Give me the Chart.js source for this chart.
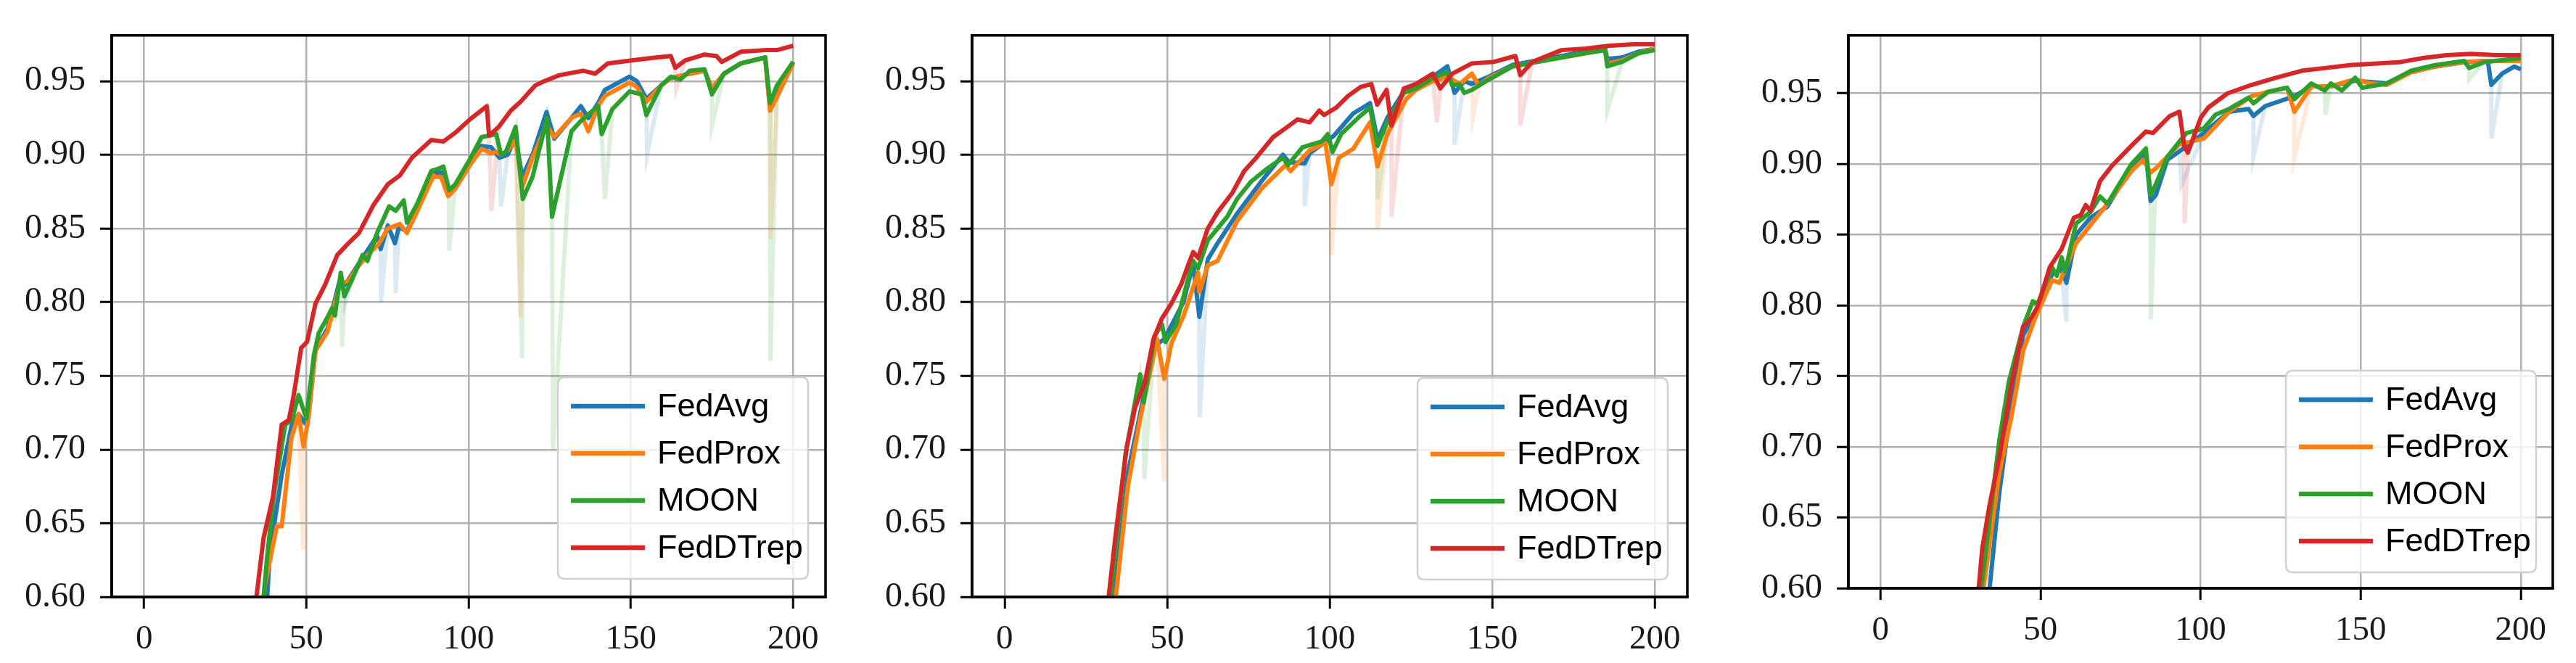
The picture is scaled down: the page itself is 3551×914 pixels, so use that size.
<!DOCTYPE html>
<html>
<head>
<meta charset="utf-8">
<script src="https://cdn.jsdelivr.net/npm/chart.js@4.4.0/dist/chart.umd.min.js"></script>
<style>
html,body{margin:0;padding:0;background:#ffffff;width:3551px;height:914px;overflow:hidden;}
.panel{position:absolute;top:0;height:914px;}
</style>
</head>
<body>
<div class="panel" style="left:0px;width:1175px"><canvas id="c1"></canvas></div>
<div class="panel" style="left:1180px;width:1175px"><canvas id="c2"></canvas></div>
<div class="panel" style="left:2360px;width:1191px"><canvas id="c3"></canvas></div>
<script>
// ---------------- data ----------------
const methods = ['FedAvg', 'FedProx', 'MOON', 'FedDTrep'];
const epochTicks = [0, 50, 100, 150, 200];
const accTicks = [0.60, 0.65, 0.70, 0.75, 0.80, 0.85, 0.90, 0.95];

// Panel 1
const p1FedAvgEpoch = [37, 38, 38.7, 40.2, 42.4, 45.4, 47.6, 49.5, 51, 52.8, 56.5, 60.3, 62, 65.5, 68.8, 71.8, 72.9, 75.1, 77.3, 78.5, 81, 84, 89.2, 91.5, 93.7, 95.9, 100.4, 104, 107, 109.5, 112, 114.5, 116.5, 119.7, 124, 126.4, 131.7, 134.6, 136.9, 139.9, 142, 149.6, 151.8, 153.3, 154.8, 159.3, 162.3, 168.2, 172.7, 175, 178.7, 183.9, 191.4, 192.9, 195, 200];
const p1FedAvgAcc = [0.575, 0.603, 0.630, 0.651, 0.683, 0.716, 0.724, 0.718, 0.730, 0.768, 0.782, 0.815, 0.812, 0.824, 0.835, 0.845, 0.836, 0.852, 0.840, 0.851, 0.848, 0.862, 0.887, 0.888, 0.873, 0.878, 0.895, 0.906, 0.905, 0.898, 0.900, 0.912, 0.885, 0.900, 0.929, 0.911, 0.925, 0.933, 0.925, 0.935, 0.944, 0.953, 0.950, 0.944, 0.938, 0.947, 0.952, 0.955, 0.957, 0.945, 0.955, 0.962, 0.966, 0.932, 0.940, 0.963];
const p1FedProxEpoch = [36, 37.2, 40.9, 42.4, 45.4, 47.6, 49.1, 50.6, 52.8, 56.5, 60.3, 63.2, 65.5, 68.8, 72.1, 75.1, 78.8, 81, 84, 89.2, 90, 91.5, 93.7, 95.9, 100.4, 104, 107, 108.5, 110, 112, 114.5, 116.5, 119.7, 124, 126.4, 131.7, 134.6, 136.9, 139.9, 142, 149.6, 151.8, 154.8, 159.3, 162.3, 168.2, 172.7, 175, 178.7, 183.9, 191.4, 192.9, 195, 200];
const p1FedProxAcc = [0.58, 0.608, 0.648, 0.648, 0.708, 0.724, 0.702, 0.721, 0.767, 0.780, 0.812, 0.815, 0.823, 0.832, 0.839, 0.850, 0.853, 0.847, 0.861, 0.886, 0.885, 0.885, 0.872, 0.877, 0.893, 0.904, 0.901, 0.902, 0.900, 0.903, 0.910, 0.878, 0.898, 0.920, 0.912, 0.925, 0.928, 0.916, 0.933, 0.940, 0.949, 0.946, 0.936, 0.947, 0.952, 0.955, 0.957, 0.945, 0.955, 0.962, 0.966, 0.930, 0.939, 0.962];
const p1MoonEpoch = [36, 37.9, 40, 43.5, 45.5, 47.6, 50, 52.3, 53.8, 56.8, 57.9, 58.8, 60.6, 61.7, 65, 67.3, 68.8, 71.8, 75.5, 77.5, 80, 81, 84, 88.5, 90, 92.2, 94, 95.9, 100.4, 104, 108.5, 110, 111.5, 114.5, 116.7, 119.7, 124.2, 125.7, 131.7, 134.6, 139.9, 141, 144.3, 149.6, 153.3, 154.8, 159.3, 162.3, 165.2, 168.2, 172.7, 175, 178.7, 183.9, 191.4, 192.9, 195, 200];
const p1MoonAcc = [0.58, 0.627, 0.67, 0.717, 0.720, 0.737, 0.721, 0.764, 0.779, 0.791, 0.796, 0.791, 0.820, 0.804, 0.820, 0.832, 0.828, 0.847, 0.865, 0.862, 0.869, 0.854, 0.866, 0.889, 0.890, 0.892, 0.876, 0.880, 0.897, 0.912, 0.914, 0.900, 0.902, 0.919, 0.870, 0.885, 0.925, 0.858, 0.916, 0.923, 0.933, 0.914, 0.931, 0.943, 0.941, 0.927, 0.947, 0.953, 0.951, 0.957, 0.958, 0.941, 0.955, 0.962, 0.966, 0.935, 0.947, 0.963];
const p1FedDTrepEpoch = [33, 34.6, 36.8, 39.7, 42.4, 44.6, 46.1, 48.4, 50.2, 52.8, 55.8, 59.5, 62.5, 66.2, 70.7, 75.1, 78.8, 82.5, 88.5, 92.2, 95.9, 100.4, 105.6, 106.3, 109.3, 113, 116, 120.5, 123.4, 128, 135.4, 139, 142.9, 150.3, 157.8, 162.3, 163.7, 166.7, 172.7, 176.4, 178, 184, 191.4, 195, 200];
const p1FedDTrepAcc = [0.57, 0.60, 0.640, 0.668, 0.717, 0.720, 0.737, 0.769, 0.773, 0.799, 0.812, 0.832, 0.839, 0.847, 0.866, 0.880, 0.886, 0.898, 0.910, 0.909, 0.915, 0.924, 0.933, 0.913, 0.919, 0.930, 0.936, 0.947, 0.950, 0.954, 0.957, 0.955, 0.962, 0.964, 0.966, 0.967, 0.959, 0.964, 0.968, 0.967, 0.963, 0.970, 0.971, 0.971, 0.974];
// raw (unsmoothed) spikes, drawn faintly
const p1FedAvgDipEpoch = [62, 73, 77.5, 110, 155];
const p1FedAvgDipAcc = [0.80, 0.80, 0.806, 0.865, 0.90];
const p1FedProxDipEpoch = [49, 116, 193];
const p1FedProxDipAcc = [0.632, 0.79, 0.843];
const p1MoonDipEpoch = [61, 94, 116.5, 126, 142, 175, 193];
const p1MoonDipAcc = [0.77, 0.835, 0.762, 0.70, 0.87, 0.92, 0.76];
const p1FedDTrepDipEpoch = [107, 164];
const p1FedDTrepDipAcc = [0.862, 0.945];

// Panel 2
const p2FedAvgEpoch = [32, 33.8, 37.9, 42.4, 46, 49.1, 52, 55, 58, 59.9, 62.5, 65.5, 71.5, 79, 85.6, 87.5, 92.3, 93.8, 101.3, 107.2, 112.4, 114.7, 117.7, 122.8, 126.5, 131.7, 136.2, 138.4, 141.4, 143.7, 148.9, 156.3, 163.8, 171.3, 178.7, 184.7, 185.4, 189.9, 195.1, 200];
const p2FedAvgAcc = [0.57, 0.60, 0.684, 0.732, 0.770, 0.775, 0.787, 0.800, 0.826, 0.790, 0.829, 0.840, 0.860, 0.882, 0.900, 0.895, 0.894, 0.901, 0.913, 0.928, 0.935, 0.910, 0.925, 0.943, 0.947, 0.953, 0.960, 0.942, 0.950, 0.948, 0.953, 0.961, 0.964, 0.967, 0.970, 0.972, 0.965, 0.966, 0.970, 0.972];
const p2FedProxEpoch = [32.5, 34.2, 37.9, 41.7, 46.9, 49.1, 51.3, 55.1, 59.5, 59.9, 62.5, 65.5, 71.5, 79, 86.4, 88, 93.8, 98.7, 100.5, 102.8, 107.2, 112.4, 114.7, 117.7, 123.6, 126.5, 131.7, 136.2, 140, 143.7, 145.9, 148.9, 156.3, 163.8, 171.3, 178.7, 184.7, 185.4, 189.9, 195.1, 200];
const p2FedProxAcc = [0.57, 0.60, 0.675, 0.721, 0.775, 0.748, 0.772, 0.791, 0.820, 0.807, 0.825, 0.828, 0.855, 0.877, 0.893, 0.889, 0.903, 0.908, 0.880, 0.898, 0.904, 0.922, 0.892, 0.914, 0.938, 0.944, 0.950, 0.953, 0.948, 0.955, 0.947, 0.952, 0.960, 0.963, 0.966, 0.969, 0.971, 0.962, 0.964, 0.969, 0.972];
const p2MoonEpoch = [31, 32.7, 37.2, 41.7, 42.8, 46.1, 48.4, 49.5, 52.8, 56.6, 58, 59.5, 62.5, 68.5, 71.5, 75.9, 80.4, 85.6, 87.1, 91.6, 97.5, 99.4, 100.9, 103.5, 108.7, 112.4, 114.7, 117.7, 122.8, 126.5, 131.7, 136.2, 137.7, 139.9, 141.4, 143.7, 145.9, 148.9, 156.3, 163.8, 171.3, 178.7, 184.7, 185.4, 189.9, 195.1, 200];
const p2MoonAcc = [0.57, 0.603, 0.697, 0.751, 0.732, 0.777, 0.785, 0.773, 0.785, 0.817, 0.828, 0.823, 0.842, 0.858, 0.870, 0.882, 0.890, 0.898, 0.893, 0.905, 0.909, 0.914, 0.902, 0.914, 0.925, 0.932, 0.906, 0.922, 0.942, 0.945, 0.952, 0.956, 0.947, 0.948, 0.942, 0.944, 0.947, 0.951, 0.960, 0.963, 0.966, 0.969, 0.971, 0.960, 0.963, 0.969, 0.971];
const p2FedDTrepEpoch = [31, 32, 34.2, 37.6, 40.2, 43.1, 45.8, 48.4, 51.3, 54.3, 56.6, 58, 59.5, 62.5, 65.5, 70, 73.7, 77.4, 82.6, 86.4, 90.1, 93.8, 96.8, 98.3, 102, 105.7, 109.5, 112.8, 114.6, 117.5, 119, 122.8, 126.5, 131.7, 134, 137.7, 143.7, 150.4, 157.1, 158.6, 162.3, 171.3, 178.7, 186.2, 193.7, 200];
const p2FedDTrepAcc = [0.57, 0.60, 0.643, 0.702, 0.729, 0.745, 0.775, 0.789, 0.799, 0.812, 0.826, 0.834, 0.830, 0.850, 0.861, 0.874, 0.889, 0.898, 0.912, 0.918, 0.924, 0.922, 0.930, 0.927, 0.932, 0.940, 0.946, 0.948, 0.934, 0.944, 0.920, 0.945, 0.948, 0.955, 0.945, 0.955, 0.962, 0.963, 0.967, 0.954, 0.963, 0.971, 0.972, 0.974, 0.975, 0.975];
const p2FedAvgDipEpoch = [60, 92.3, 138.4];
const p2FedAvgDipAcc = [0.722, 0.865, 0.907];
const p2FedProxDipEpoch = [49, 100.5, 114.7, 144];
const p2FedProxDipAcc = [0.68, 0.832, 0.85, 0.925];
const p2MoonDipEpoch = [43, 114.7, 185.4];
const p2MoonDipAcc = [0.68, 0.87, 0.93];
const p2FedDTrepDipEpoch = [119, 133, 158.6];
const p2FedDTrepDipAcc = [0.858, 0.922, 0.92];

// Panel 3
const p3FedAvgEpoch = [33, 34.1, 37.1, 40.8, 44.6, 49, 53.6, 56.5, 58.1, 61.1, 65.6, 70.9, 78.4, 82.9, 84.4, 86, 89.6, 93.4, 101, 108.9, 115, 116.5, 120.2, 129.3, 134.6, 140.7, 148.3, 158.1, 165.7, 173.3, 182.3, 189.7, 190.8, 194.2, 198, 200];
const p3FedAvgAcc = [0.57, 0.60, 0.667, 0.729, 0.779, 0.797, 0.822, 0.826, 0.816, 0.850, 0.862, 0.870, 0.898, 0.908, 0.874, 0.878, 0.903, 0.909, 0.922, 0.937, 0.939, 0.934, 0.941, 0.948, 0.955, 0.955, 0.959, 0.957, 0.965, 0.969, 0.972, 0.973, 0.956, 0.964, 0.969, 0.967];
const p3FedProxEpoch = [31, 32.2, 37.1, 40.8, 44.6, 48.3, 53.6, 55.9, 61.1, 70.9, 78.4, 82.1, 84.4, 86, 93.4, 101, 108.9, 115.9, 121, 127, 129.3, 134.6, 140.7, 148.3, 153, 158.1, 165.7, 173.3, 181.5, 190, 200];
const p3FedProxAcc = [0.57, 0.60, 0.681, 0.720, 0.768, 0.791, 0.818, 0.816, 0.844, 0.872, 0.895, 0.903, 0.894, 0.897, 0.914, 0.918, 0.937, 0.948, 0.951, 0.954, 0.937, 0.955, 0.955, 0.960, 0.957, 0.956, 0.965, 0.969, 0.972, 0.973, 0.973];
const p3MoonEpoch = [30, 31.5, 37.1, 40.1, 44.6, 47.6, 49.1, 53.6, 55.1, 56.6, 57.7, 61.1, 65.6, 68.6, 70.9, 78.4, 82.9, 84.4, 85.9, 89.6, 93.4, 95.6, 100.9, 104.7, 108.9, 115, 116.5, 121, 127, 129.3, 134.6, 138.8, 140.7, 144.1, 148.3, 150.5, 158.1, 165.7, 173.3, 182.3, 183.9, 188.4, 200];
const p3MoonAcc = [0.57, 0.60, 0.704, 0.746, 0.785, 0.803, 0.801, 0.827, 0.821, 0.834, 0.824, 0.858, 0.866, 0.877, 0.872, 0.900, 0.911, 0.878, 0.885, 0.905, 0.916, 0.922, 0.925, 0.935, 0.939, 0.947, 0.943, 0.951, 0.954, 0.946, 0.957, 0.952, 0.957, 0.952, 0.961, 0.954, 0.957, 0.966, 0.970, 0.973, 0.968, 0.972, 0.975];
const p3FedDTrepEpoch = [29.5, 30.7, 31.8, 34.1, 37.1, 40.8, 44.6, 46.8, 49.1, 52.9, 56.6, 60.4, 62.6, 64.1, 65.6, 68.6, 72.4, 78.4, 82.9, 85.1, 90.4, 93.4, 94.9, 96, 100.1, 102.4, 108.4, 115.9, 123.4, 131.6, 139.2, 146.7, 154.3, 161.9, 169.5, 177, 184.6, 192.2, 200];
const p3FedDTrepAcc = [0.57, 0.60, 0.628, 0.659, 0.692, 0.743, 0.785, 0.790, 0.799, 0.827, 0.840, 0.862, 0.864, 0.871, 0.867, 0.888, 0.899, 0.913, 0.923, 0.922, 0.934, 0.937, 0.913, 0.908, 0.933, 0.940, 0.950, 0.956, 0.961, 0.966, 0.968, 0.970, 0.971, 0.972, 0.975, 0.977, 0.978, 0.977, 0.977];
const p3FedAvgDipEpoch = [58, 94, 116.5, 190.8];
const p3FedAvgDipAcc = [0.79, 0.885, 0.905, 0.918];
const p3FedProxDipEpoch = [129.3];
const p3FedProxDipAcc = [0.905];
const p3MoonDipEpoch = [84.4, 139, 183.9];
const p3MoonDipAcc = [0.79, 0.935, 0.96];
const p3FedDTrepDipEpoch = [95];
const p3FedDTrepDipAcc = [0.858];

// ---------------- styling / layout ----------------
const seriesColors = ['#1f77b4', '#ff7f0e', '#2ca02c', '#d62728'];

const panels = [
  { canvas: 'c1', yAxisW: 154, xAxisH: 91, padRight: 37, yMax: 0.981, legRight: 24, legBottom: 25,
    main: [[p1FedAvgEpoch, p1FedAvgAcc], [p1FedProxEpoch, p1FedProxAcc], [p1MoonEpoch, p1MoonAcc], [p1FedDTrepEpoch, p1FedDTrepAcc]],
    dips: [[p1FedAvgDipEpoch, p1FedAvgDipAcc], [p1FedProxDipEpoch, p1FedProxDipAcc], [p1MoonDipEpoch, p1MoonDipAcc], [p1FedDTrepDipEpoch, p1FedDTrepDipAcc]] },
  { canvas: 'c2', yAxisW: 160, xAxisH: 91, padRight: 29, yMax: 0.981, legRight: 27, legBottom: 24,
    main: [[p2FedAvgEpoch, p2FedAvgAcc], [p2FedProxEpoch, p2FedProxAcc], [p2MoonEpoch, p2MoonAcc], [p2FedDTrepEpoch, p2FedDTrepAcc]],
    dips: [[p2FedAvgDipEpoch, p2FedAvgDipAcc], [p2FedProxDipEpoch, p2FedProxDipAcc], [p2MoonDipEpoch, p2MoonDipAcc], [p2FedDTrepDipEpoch, p2FedDTrepDipAcc]] },
  { canvas: 'c3', yAxisW: 188, xAxisH: 103, padRight: 32, yMax: 0.991, legRight: 23, legBottom: 22,
    main: [[p3FedAvgEpoch, p3FedAvgAcc], [p3FedProxEpoch, p3FedProxAcc], [p3MoonEpoch, p3MoonAcc], [p3FedDTrepEpoch, p3FedDTrepAcc]],
    dips: [[p3FedAvgDipEpoch, p3FedAvgDipAcc], [p3FedProxDipEpoch, p3FedProxDipAcc], [p3MoonDipEpoch, p3MoonDipAcc], [p3FedDTrepDipEpoch, p3FedDTrepDipAcc]] }
];

function toPoints(xs, ys) { return xs.map((x, i) => ({ x: x, y: ys[i] })); }
function withDips(xs, ys, dx, dy) {
  const a = toPoints(xs, ys).concat(toPoints(dx, dy));
  a.sort((p, q) => p.x - q.x);
  return a;
}
function rgba(hex, a) {
  const n = parseInt(hex.slice(1), 16);
  return 'rgba(' + ((n >> 16) & 255) + ',' + ((n >> 8) & 255) + ',' + (n & 255) + ',' + a + ')';
}

// spines on all four sides
const frame = {
  id: 'frame',
  afterDatasetsDraw(chart) {
    const a = chart.chartArea, ctx = chart.ctx;
    ctx.save();
    ctx.strokeStyle = '#000';
    ctx.lineWidth = 3.5;
    ctx.strokeRect(a.left, a.top, a.right - a.left, a.bottom - a.top);
    ctx.restore();
  }
};

// matplotlib-like legend inside the axes (lower right)
const boxLegend = {
  id: 'boxLegend',
  afterDraw(chart, args, opts) {
    const ctx = chart.ctx, a = chart.chartArea;
    const w = 345, h = 278, r = 10;
    const x0 = a.right - opts.right - w, y0 = a.bottom - opts.bottom - h;
    ctx.save();
    ctx.beginPath();
    ctx.moveTo(x0 + r, y0);
    ctx.lineTo(x0 + w - r, y0);
    ctx.quadraticCurveTo(x0 + w, y0, x0 + w, y0 + r);
    ctx.lineTo(x0 + w, y0 + h - r);
    ctx.quadraticCurveTo(x0 + w, y0 + h, x0 + w - r, y0 + h);
    ctx.lineTo(x0 + r, y0 + h);
    ctx.quadraticCurveTo(x0, y0 + h, x0, y0 + h - r);
    ctx.lineTo(x0, y0 + r);
    ctx.quadraticCurveTo(x0, y0, x0 + r, y0);
    ctx.closePath();
    ctx.fillStyle = 'rgba(255,255,255,0.8)';
    ctx.fill();
    ctx.strokeStyle = '#d0d0d0';
    ctx.lineWidth = 2.5;
    ctx.stroke();
    const items = chart.data.datasets.filter(d => d.legendIndex !== undefined)
      .sort((p, q) => p.legendIndex - q.legendIndex);
    ctx.font = '45px "Liberation Sans", Arial, sans-serif';
    ctx.textAlign = 'left';
    ctx.textBaseline = 'alphabetic';
    items.forEach((d, i) => {
      const cy = y0 + 40 + i * 65;
      ctx.strokeStyle = d.borderColor;
      ctx.lineWidth = 6.5;
      ctx.lineCap = 'butt';
      ctx.beginPath();
      ctx.moveTo(x0 + 18, cy);
      ctx.lineTo(x0 + 120, cy);
      ctx.stroke();
      ctx.fillStyle = '#000';
      ctx.fillText(d.label, x0 + 137, cy + 14);
    });
    ctx.restore();
  }
};

Chart.defaults.font.family = '"Liberation Serif", "Times New Roman", serif';
Chart.defaults.animation = false;

panels.forEach(p => {
  const datasets = [];
  methods.forEach((m, i) => {
    datasets.push({
      label: m + ' (raw)',
      data: withDips(p.main[i][0], p.main[i][1], p.dips[i][0], p.dips[i][1]),
      borderColor: rgba(seriesColors[i], 0.16),
      borderWidth: 6,
      pointRadius: 0,
      tension: 0,
      clip: 0,
      order: 10 + i
    });
  });
  methods.forEach((m, i) => {
    datasets.push({
      label: m,
      legendIndex: i,
      data: toPoints(p.main[i][0], p.main[i][1]),
      borderColor: seriesColors[i],
      borderWidth: 6,
      pointRadius: 0,
      tension: 0,
      clip: 0,
      borderJoinStyle: 'round',
      order: 4 - i
    });
  });

  new Chart(document.getElementById(p.canvas), {
    type: 'line',
    data: { datasets: datasets },
    plugins: [frame, boxLegend],
    options: {
      responsive: true,
      maintainAspectRatio: false,
      devicePixelRatio: 1,
      animation: false,
      layout: { padding: { top: 26, right: p.padRight, left: 0, bottom: 0 } },
      plugins: {
        legend: { display: false },
        tooltip: { enabled: false },
        boxLegend: { right: p.legRight, bottom: p.legBottom }
      },
      scales: {
        x: {
          type: 'linear',
          min: -10,
          max: 210,
          afterBuildTicks: s => { s.ticks = epochTicks.map(v => ({ value: v })); },
          afterFit: s => { s.height = p.xAxisH; },
          ticks: {
            callback: v => String(v),
            font: { size: 47 },
            color: '#1a1a1a',
            padding: 14,
            maxRotation: 0,
            autoSkip: false
          },
          grid: { color: '#b0b0b0', lineWidth: 2.5, tickColor: '#000', tickWidth: 3, tickLength: 16, drawTicks: true },
          border: { display: true, color: '#000', width: 3.5 }
        },
        y: {
          type: 'linear',
          min: 0.60,
          max: p.yMax,
          afterBuildTicks: s => { s.ticks = accTicks.map(v => ({ value: v })); },
          afterFit: s => { s.width = p.yAxisW; },
          ticks: {
            callback: v => Number(v).toFixed(2),
            font: { size: 48 },
            color: '#1a1a1a',
            padding: 20,
            autoSkip: false
          },
          grid: { color: '#b0b0b0', lineWidth: 2.5, tickColor: '#000', tickWidth: 3, tickLength: 16, drawTicks: true },
          border: { display: true, color: '#000', width: 3.5 }
        }
      }
    }
  });
});
</script>
</body>
</html>
